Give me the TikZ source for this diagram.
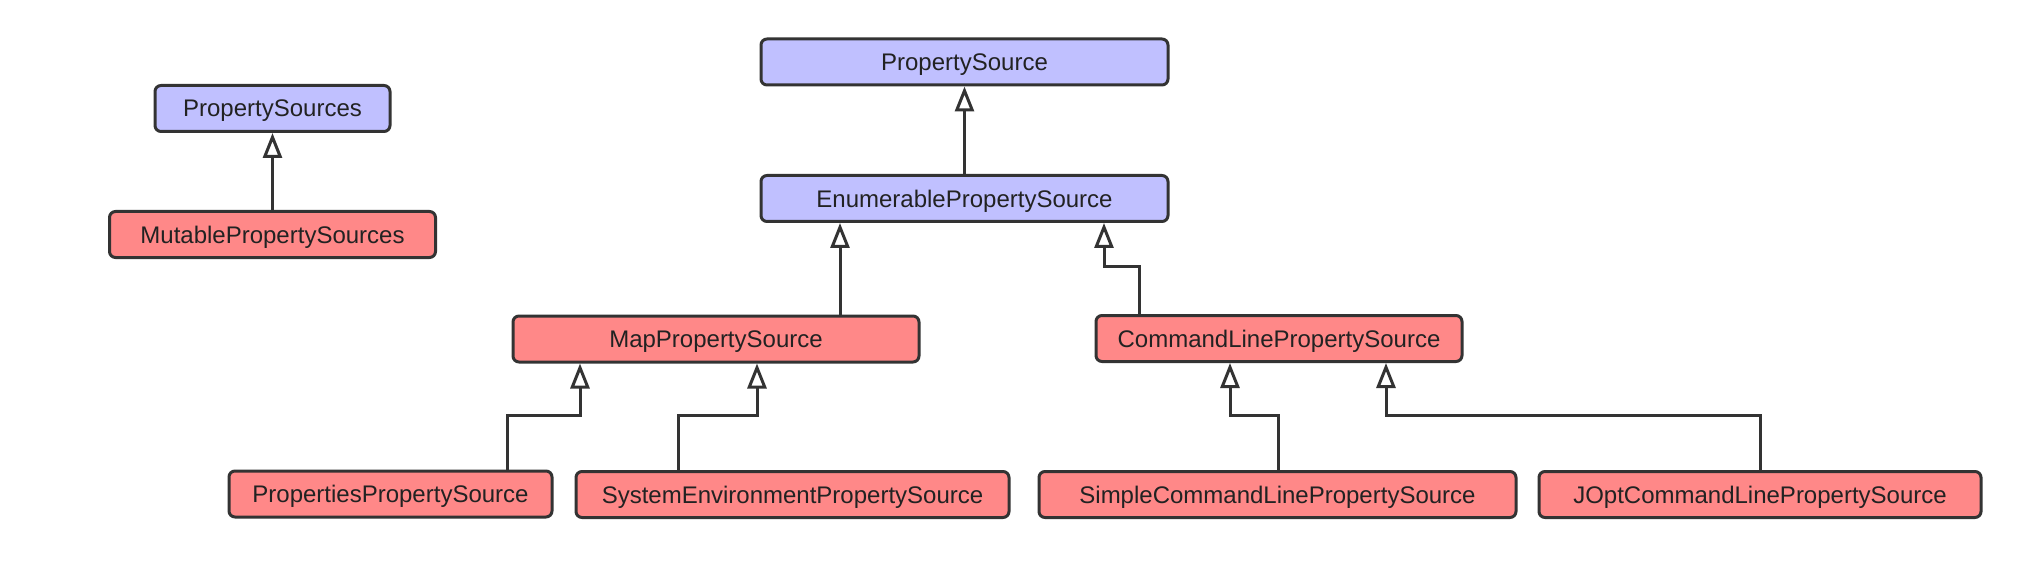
\documentclass[tikz,border=0pt]{standalone}
\usepackage{fontspec}
\setmainfont{Liberation Sans}
\usetikzlibrary{arrows.meta}
\definecolor{bluefill}{RGB}{192,192,255}
\definecolor{redfill}{RGB}{255,136,136}
\definecolor{edge}{RGB}{51,51,51}
\definecolor{txt}{RGB}{34,34,34}
\tikzset{
  cls/.style={draw=edge, line width=3pt, rounded corners=6pt, minimum height=46pt,
    inner sep=0pt, text depth=0pt, font=\fontsize{24}{28}\selectfont, text=txt},
  ifc/.style={cls, fill=bluefill},
  impl/.style={cls, fill=redfill},
  inh/.style={draw=edge, line width=3pt, -{Triangle[open, length=25pt, width=19pt, line width=3pt]}}
}
\begin{document}
\begin{tikzpicture}[x=1pt, y=-1pt]
\useasboundingbox (0,0) rectangle (2024,572);
\node[ifc, minimum width=235pt] (ps) at (272.5,108.5) {PropertySources};
\node[impl, minimum width=326pt] (mps) at (272.5,234.5) {MutablePropertySources};
\node[ifc, minimum width=407pt] (psrc) at (964.5,62) {PropertySource};
\node[ifc, minimum width=407pt] (eps) at (964.5,198.5) {EnumerablePropertySource};
\node[impl, minimum width=406pt] (map) at (716,339) {MapPropertySource};
\node[impl, minimum width=366pt] (clps) at (1279,338.5) {CommandLinePropertySource};
\node[impl, minimum width=323pt] (props) at (390.5,494) {PropertiesPropertySource};
\node[impl, minimum width=433pt] (sysenv) at (792.5,494.5) {SystemEnvironmentPropertySource};
\node[impl, minimum width=477pt] (simple) at (1277.5,494.5) {SimpleCommandLinePropertySource};
\node[impl, minimum width=442pt] (jopt) at (1760,494.5) {JOptCommandLinePropertySource};

\draw[inh] (mps.north) -- (ps.south);
\draw[inh] (eps.north) -- (psrc.south);
\draw[inh] ([xshift=124pt]map.north) -- ([xshift=-124.5pt]eps.south);
\draw[inh] ([xshift=-140pt]clps.north) -- ++(0,-48) -| ([xshift=139.5pt]eps.south);
\draw[inh] ([xshift=116.5pt]props.north) -- ++(0,-54) -| ([xshift=-136pt]map.south);
\draw[inh] ([xshift=-114.5pt]sysenv.north) -- ++(0,-55) -| ([xshift=41pt]map.south);
\draw[inh] ([xshift=0.5pt]simple.north) -- ++(0,-55) -| ([xshift=-49pt]clps.south);
\draw[inh] (jopt.north) -- ++(0,-55) -| ([xshift=107pt]clps.south);
\end{tikzpicture}
\end{document}
